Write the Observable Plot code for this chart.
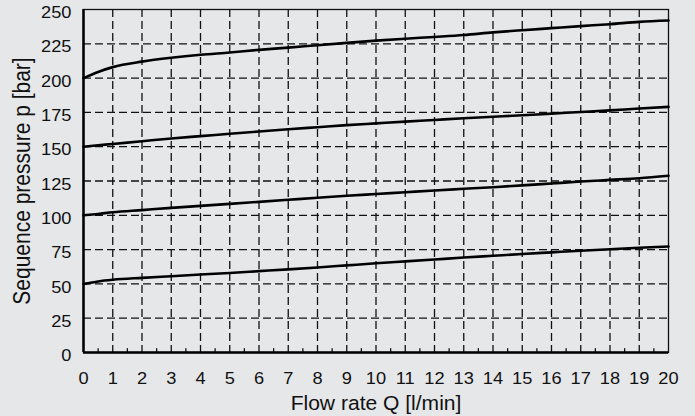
<!DOCTYPE html>
<html>
<head>
<meta charset="utf-8">
<script src="https://cdn.jsdelivr.net/npm/d3@7"></script>
<script src="https://cdn.jsdelivr.net/npm/@observablehq/plot@0.6"></script>
<style>
  html, body { margin: 0; padding: 0; background: #e6e7e9; }
  svg g[aria-label="x-axis label"] { font-size: 19.5px; }
  svg g[aria-label="y-axis label"] { font-size: 21px; }
</style>
</head>
<body>
<div id="chart"></div>
<script>
const flow = [0, 0.5, 1, 2, 3, 4, 5, 6, 7, 8, 9, 10, 11, 12, 13, 14, 15, 16, 17, 18, 19, 20];
const p200 = [200, 204.5, 208, 212, 214.8, 217, 218.7, 220.6, 222.2, 224, 225.7, 227.3, 228.7, 230, 231.4, 233.3, 234.9, 236.4, 237.9, 239.3, 241, 242];
const p150 = [150, 151, 152, 154, 156, 157.7, 159.4, 161.1, 162.7, 164.2, 165.7, 167, 168.3, 169.5, 170.7, 171.8, 172.9, 174.1, 175.3, 176.5, 177.8, 179];
const p100 = [100, 101, 102.2, 103.8, 105.4, 106.9, 108.3, 109.8, 111.3, 112.8, 114.2, 115.5, 116.8, 118.1, 119.3, 120.5, 121.8, 123.2, 124.6, 125.8, 127, 128.8];
const p50  = [50, 51.8, 53, 54.4, 55.6, 56.8, 58.0, 59.3, 60.6, 62.0, 63.5, 65.0, 66.4, 67.8, 69.2, 70.5, 71.8, 73.0, 74.2, 75.3, 76.3, 77.3];
const seriesNames = ["200 bar", "150 bar", "100 bar", "50 bar"];
const seriesValues = [p200, p150, p100, p50];
const xTicks = [0,1,2,3,4,5,6,7,8,9,10,11,12,13,14,15,16,17,18,19,20];
const xMinor = [0.5,1.5,2.5,3.5,4.5,5.5,6.5,7.5,8.5,9.5,10.5,11.5,12.5,13.5,14.5,15.5,16.5,17.5,18.5,19.5];
const yTicks = [0,25,50,75,100,125,150,175,200,225,250];

const rows = seriesNames.flatMap((s, i) => flow.map((q, j) => ({s, q, p: seriesValues[i][j]})));

const gridStyle = {stroke: "#111", strokeOpacity: 1, strokeWidth: 1.3, strokeDasharray: "8,4"};

const chart = Plot.plot({
  width: 695,
  height: 416,
  marginLeft: 83,
  marginRight: 27,
  marginTop: 9,
  marginBottom: 64,
  style: {background: "#e6e7e9", fontFamily: "'Liberation Sans', Arial, sans-serif", color: "#111"},
  x: {domain: [0, 20]},
  y: {domain: [0, 250]},
  marks: [
    Plot.gridX(xTicks.filter(d => d > 0 && d < 20), gridStyle),
    Plot.gridY(yTicks.filter(d => d > 0 && d < 250), gridStyle),
    Plot.ruleX(xMinor, {y1: 0, y2: 2.8, stroke: "#111", strokeWidth: 1.3}),
    Plot.frame({stroke: "#111", strokeWidth: 1.3}),
    Plot.ruleX([0], {stroke: "#000", strokeWidth: 2.5}),
    Plot.ruleY([0], {stroke: "#000", strokeWidth: 2.5}),
    Plot.line(rows, {x: "q", y: "p", z: "s", curve: "monotone-x", stroke: "#000", strokeWidth: 2.6}),
    Plot.axisX(xTicks, {tickSize: 0, tickPadding: 20, fontSize: 16, label: "Flow rate Q [l/min]", labelAnchor: "center", labelArrow: "none", labelOffset: 57}),
    Plot.axisY(yTicks, {tickSize: 0, tickPadding: 12, fontSize: 16, dy: 3.5, label: "Sequence pressure p [bar]", labelAnchor: "center", labelArrow: "none", labelOffset: 70})
  ]
});

// the reference text is horizontally stretched; scale glyphs about their anchors
function stretch(sel, sx, sy) {
  sel.each(function() {
    const t = this.getAttribute("transform") || "";
    this.setAttribute("transform", `${t} scale(${sx},${sy})`);
  });
}
const s = d3.select(chart);
stretch(s.selectAll('g[aria-label="x-axis tick label"] text, g[aria-label="y-axis tick label"] text'), 1.14, 1);
stretch(s.selectAll('g[aria-label="x-axis label"] text'), 1.08, 1);
stretch(s.selectAll('g[aria-label="y-axis label"] text'), 1, 1.12);

document.getElementById("chart").appendChild(chart);
</script>
</body>
</html>
